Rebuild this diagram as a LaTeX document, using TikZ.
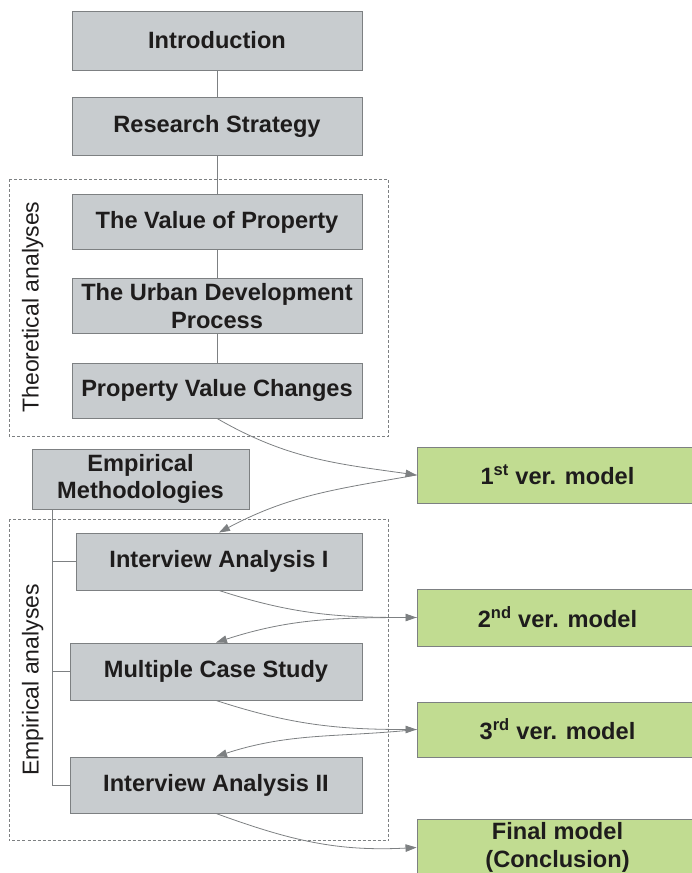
\documentclass[tikz,border=0pt]{standalone}
\usepackage{fontspec}
\setmainfont{Liberation Sans}
\usetikzlibrary{arrows.meta}
\definecolor{boxgray}{RGB}{200,204,207}
\definecolor{boxgreen}{RGB}{193,220,145}
\definecolor{linegray}{RGB}{125,128,130}
\definecolor{txt}{RGB}{30,28,28}
\tikzset{
  gbox/.style={draw=linegray, line width=0.9pt, fill=boxgray, inner sep=0pt, align=center, text=txt,
    font=\fontsize{23.6}{27.5}\selectfont\bfseries},
  mbox/.style={gbox, fill=boxgreen},
  link/.style={draw=linegray, line width=0.8pt},
  flow/.style={draw=linegray, line width=0.8pt, -{Triangle[length=11pt,width=7.5pt]}},
  groupbox/.style={draw=linegray, line width=0.8pt, dash pattern=on 3pt off 2pt},
  sidelabel/.style={rotate=90, anchor=base, text=txt, font=\fontsize{23}{27}\selectfont}
}
\begin{document}
\begin{tikzpicture}[x=1pt,y=-1pt]
\useasboundingbox (0,0) rectangle (692,873);
\clip (0,0) rectangle (692,873);

% group frames
\draw[groupbox] (9,179) rectangle (388.5,436);
\draw[groupbox] (9,519) rectangle (388.5,840.5);
\node[sidelabel] (tl) at (38.5,307) {Theoretical analyses};
\node[sidelabel] (el) at (38.5,680) {Empirical analyses};

% main chain
\node[gbox, minimum width=290, minimum height=59] (intro) at (217,40.5) {Introduction};
\node[gbox, minimum width=290, minimum height=58] (rs) at (217,126) {Research Strategy};
\node[gbox, minimum width=290, minimum height=55] (vp) at (217,222) {The Value of Property};
\node[gbox, minimum width=290, minimum height=55] (ud) at (217,306) {The Urban Development\\Process};
\node[gbox, minimum width=290, minimum height=55] (pvc) at (217,390.5) {Property Value Changes};

\node[gbox, minimum width=217, minimum height=60] (em) at (140.5,479) {Empirical\\Methodologies};
\node[gbox, minimum width=286, minimum height=57] (ia1) at (219,561.5) {Interview Analysis I};
\node[gbox, minimum width=292, minimum height=57] (mcs) at (216,671.5) {Multiple Case Study};
\node[gbox, minimum width=292, minimum height=56] (ia2) at (216,785) {Interview Analysis II};

% models
\node[mbox, minimum width=281, minimum height=56] (m1) at (557.5,475) {1\textsuperscript{st} ver. model};
\node[mbox, minimum width=281, minimum height=57] (m2) at (557.5,617.5) {2\textsuperscript{nd} ver. model};
\node[mbox, minimum width=281, minimum height=55] (m3) at (557.5,729.5) {3\textsuperscript{rd} ver. model};
\node[mbox, minimum width=281, minimum height=57] (mf) at (557.5,847.5) {Final model\\(Conclusion)};

% vertical links
\draw[link] (intro) -- (rs);
\draw[link] (rs) -- (vp);
\draw[link] (vp) -- (ud);
\draw[link] (ud) -- (pvc);

% tree from Empirical Methodologies
\path (em.south west) ++(21,0) coordinate (tr);
\draw[link] (tr) |- (ia1.west);
\draw[link] (tr) |- (mcs.west);
\draw[link] (tr) |- (ia2.west);

% model arrows
\draw[flow] (pvc.south) to[out=-30, in=172] (m1.west);
\draw[flow] (m1.west) to[out=190, in=28] (ia1.north);
\draw[flow] (ia1.south) to[out=-18, in=180] (m2.west);
\draw[flow] (m2.west) to[out=180, in=18] (mcs.north);
\draw[flow] (mcs.south) to[out=-18, in=180] (m3.west);
\draw[flow] (m3.west) to[out=186, in=18] (ia2.north);
\draw[flow] (ia2.south) to[out=-20, in=183] (mf.west);
\end{tikzpicture}
\end{document}
